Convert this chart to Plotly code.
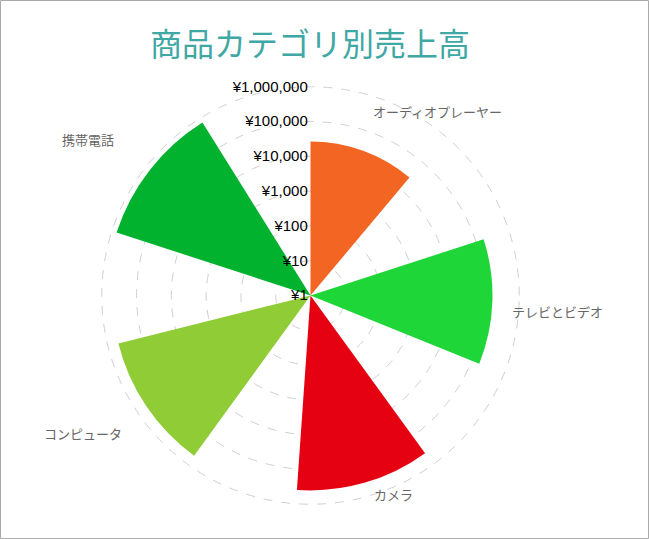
import math
import plotly.graph_objects as go

categories = ["オーディオプレーヤー", "テレビとビデオ", "カメラ", "コンピュータ", "携帯電話"]
sales = [26600, 170000, 400000, 490000, 725000]
colors = ["#f36523", "#1fd639", "#e50012", "#8fcc36", "#00b22e"]
angles = [20, 92, 164, 236, 308]
bar_width = 40
radial_ticks = [1, 10, 100, 1000, 10000, 100000, 1000000]
radial_labels = ["¥1", "¥10", "¥100", "¥1,000", "¥10,000", "¥100,000", "¥1,000,000"]

# label placement (style): angle in degrees clockwise from north, distance in px from centre
label_angles = [34.6, 93.7, 157.4, 238.8, 305.0]
label_dist = [224, 248, 216, 266, 272]

W, H = 649, 539
L, R, T, B = 100, 128, 85, 33
CX, CY = 310.5, 295.5
PW, PH = W - L - R, H - T - B

fig = go.Figure()
fig.add_trace(go.Barpolar(
    r=sales, theta=angles, width=[bar_width] * len(sales),
    marker=dict(color=colors, line=dict(width=0)),
    base=1,
    showlegend=False,
    hoverinfo="skip",
))

annotations = []
for name, a, d in zip(categories, label_angles, label_dist):
    px = CX + d * math.sin(math.radians(a))
    py = CY - d * math.cos(math.radians(a))
    annotations.append(dict(
        text=name, xref="paper", yref="paper",
        x=(px - L) / PW, y=(H - B - py) / PH,
        xanchor="center", yanchor="middle", showarrow=False,
        font=dict(size=13, color="#666666", family="Noto Sans CJK JP"),
    ))

fig.update_layout(
    width=W, height=H,
    margin=dict(l=L, r=R, t=T, b=B, pad=0),
    paper_bgcolor="white",
    plot_bgcolor="white",
    font=dict(family="Noto Sans CJK JP, Noto Sans, sans-serif"),
    title=dict(text="商品カテゴリ別売上高", x=310 / W, xanchor="center",
               y=1 - 45 / H, yanchor="middle", yref="container",
               font=dict(size=32, color="#40a8a4", family="Noto Sans CJK JP")),
    polar=dict(
        bgcolor="white",
        domain=dict(x=[0, 1], y=[0, 1]),
        angularaxis=dict(
            direction="clockwise", rotation=90, thetaunit="degrees",
            type="linear", tickmode="array", tickvals=angles, ticktext=categories,
            showticklabels=False,
            showgrid=False, showline=False, ticks="",
        ),
        radialaxis=dict(
            type="log", range=[0, 6.05], angle=90, side="counterclockwise",
            tickmode="array", tickvals=radial_ticks, ticktext=radial_labels,
            showline=False, ticks="",
            gridcolor="#d0d0d0", griddash="dash", gridwidth=1,
            tickangle=90,
            tickfont=dict(size=15, color="#000000", family="Liberation Sans, Arial"),
        ),
    ),
    annotations=annotations,
    shapes=[dict(
        type="rect", xref="paper", yref="paper",
        x0=(0.5 - L) / PW, x1=(W - 0.5 - L) / PW,
        y0=(-(B - 0.5)) / PH, y1=(H - B - 0.5) / PH,
        line=dict(color="#aaaaaa", width=1), fillcolor="rgba(0,0,0,0)", layer="below",
    )],
)

fig.write_html("out.html")
